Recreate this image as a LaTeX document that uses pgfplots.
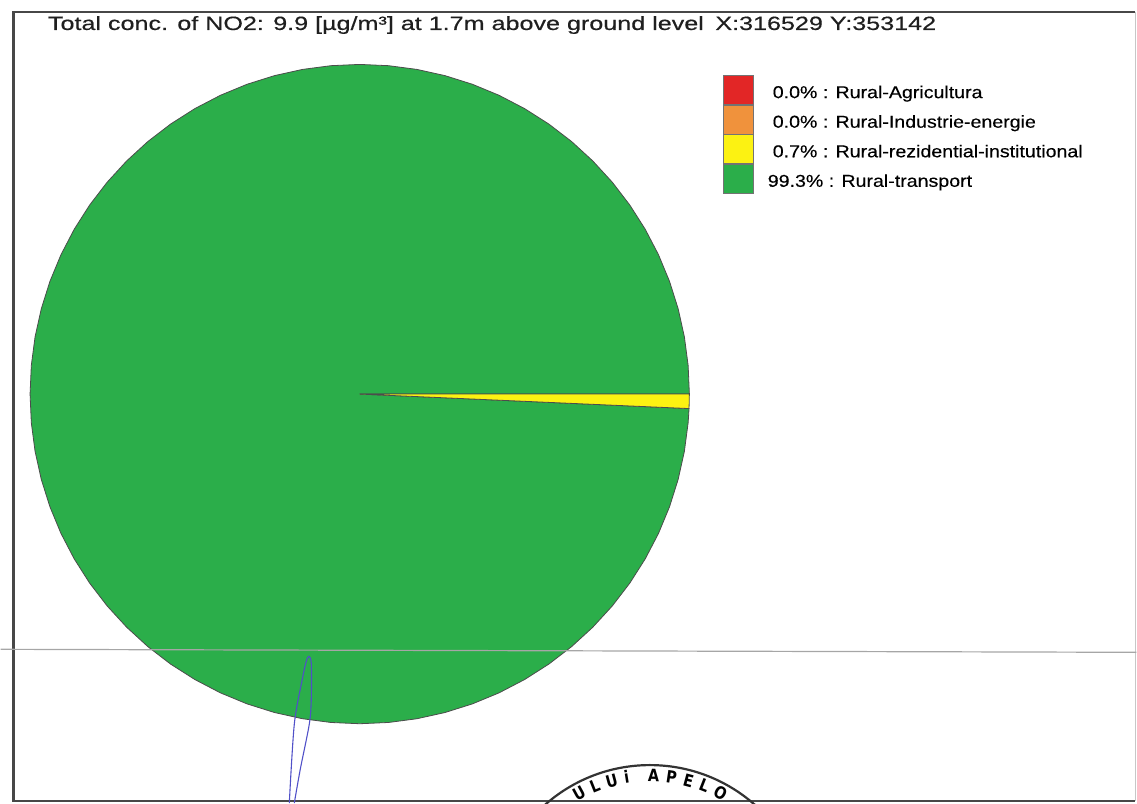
\documentclass[border=0pt]{standalone}
\usepackage{fontspec}
\setmainfont{Liberation Sans}
\newfontfamily\titlefont[FakeStretch=1.31,FakeBold=0.5]{Liberation Sans}
\newfontfamily\legfont[FakeStretch=1.14,FakeBold=0.3]{Liberation Sans}
\newfontfamily\stampfont[FakeStretch=0.85]{DejaVu Sans}
\usepackage{pgfplots}
\pgfplotsset{compat=1.18}
\usetikzlibrary{decorations.text}
\definecolor{pieGreen}{RGB}{43,174,74}
\definecolor{pieRed}{RGB}{226,38,38}
\definecolor{pieOrange}{RGB}{240,146,60}
\definecolor{pieYellow}{RGB}{252,242,18}
\definecolor{roadBlue}{RGB}{80,80,200}
\begin{document}
\begin{tikzpicture}
\begin{axis}[
  x=0.5pt, y=0.5pt,
  xmin=-359.5, xmax=777.5, ymin=-409.5, ymax=394.5,
  hide axis, clip=false,
  legend cell align=left,
  legend style={at={(axis cs:363.5,319.5)}, anchor=north west, draw=none, fill=none,
    font=\legfont\fontsize{8.6}{10}\selectfont, row sep=0pt, inner sep=0pt,
    nodes={inner sep=0pt},
    /tikz/every odd column/.append style={column sep=7pt}},
  legend image code/.code={\path[#1] (0pt,-5.6pt) rectangle (15pt,8.9pt);},
]
% frame
\draw[black!72, line width=1.1pt] (axis cs:776.5,382.5) -- (axis cs:-346.5,382.5) -- (axis cs:-346.5,-407.5) -- (axis cs:776.5,-407.5);
\draw[black!22, line width=0.5pt] (axis cs:776.5,382.5) -- (axis cs:776.5,-407.5);
% title
\node[anchor=base west, inner sep=0pt, text=black!88, font=\titlefont\fontsize{9.6}{12}\selectfont]
  at (axis cs:-312.5,364.5) {Total conc. of NO2: 9.9 [µg/m³] at 1.7m above ground level\hspace{0.6em}X:316529 Y:353142};
% pie: Rural-transport 99.3%
\addplot[forget plot, fill=pieGreen, draw=black!70, line width=0.4pt, data cs=polar, mark=none] coordinates {
(0,0) (-2.52,330) (-5,330) (-10,330) (-15,330) (-20,330) (-25,330) (-30,330) (-35,330) (-40,330)
(-45,330) (-50,330) (-55,330) (-60,330) (-65,330) (-70,330) (-75,330) (-80,330) (-85,330) (-90,330)
(-95,330) (-100,330) (-105,330) (-110,330) (-115,330) (-120,330) (-125,330) (-130,330) (-135,330)
(-140,330) (-145,330) (-150,330) (-155,330) (-160,330) (-165,330) (-170,330) (-175,330) (-180,330)
(-185,330) (-190,330) (-195,330) (-200,330) (-205,330) (-210,330) (-215,330) (-220,330) (-225,330)
(-230,330) (-235,330) (-240,330) (-245,330) (-250,330) (-255,330) (-260,330) (-265,330) (-270,330)
(-275,330) (-280,330) (-285,330) (-290,330) (-295,330) (-300,330) (-305,330) (-310,330) (-315,330)
(-320,330) (-325,330) (-330,330) (-335,330) (-340,330) (-345,330) (-350,330) (-355,330) (-360,330) (0,0)};
% pie: Rural-rezidential-institutional 0.7%
\addplot[forget plot, fill=pieYellow, draw=black!70, line width=0.4pt, data cs=polar, mark=none] coordinates {
(0,0) (0,330) (-2.52,330) (0,0)};
% map road (scan background)
\draw[black!35, line width=0.6pt] (axis cs:-359.5,-255.5) -- (axis cs:777.5,-258.5);
\draw[roadBlue, line width=0.55pt] plot[smooth] coordinates {
(axis cs:-70.5,-409.5) (axis cs:-65.5,-330.5) (axis cs:-57.5,-285.5) (axis cs:-53.5,-267.5)
(axis cs:-51,-262.5) (axis cs:-48.5,-269.5) (axis cs:-48.5,-305.5) (axis cs:-50.5,-330.5)
(axis cs:-59.5,-375.5) (axis cs:-65.5,-409.5)};
% stamp
\begin{scope}
\clip (axis cs:-359.5,-409.5) rectangle (axis cs:777.5,394.5);
\draw[black!80, line width=1.1pt] (axis cs:290.5,-530) circle[radius=79.3pt];
\path[decorate, decoration={text along path, text align=fit to path,
  text={|\stampfont\bfseries\fontsize{8.5}{8.5}\selectfont|ULUi APELO}}]
  (axis cs:290.5,-530) ++(121:71pt) arc[start angle=121, end angle=59, radius=71pt];
\end{scope}
% legend
\addlegendimage{fill=pieRed, draw=black!55, line width=0.3pt}
\addlegendentry{\hspace*{2.5pt}0.0\% : Rural-Agricultura}
\addlegendimage{fill=pieOrange, draw=black!55, line width=0.3pt}
\addlegendentry{\hspace*{2.5pt}0.0\% : Rural-Industrie-energie}
\addlegendimage{fill=pieYellow, draw=black!55, line width=0.3pt}
\addlegendentry{\hspace*{2.5pt}0.7\% : Rural-rezidential-institutional}
\addlegendimage{fill=pieGreen, draw=black!55, line width=0.3pt}
\addlegendentry{99.3\% : Rural-transport}
\end{axis}
\end{tikzpicture}
\end{document}
